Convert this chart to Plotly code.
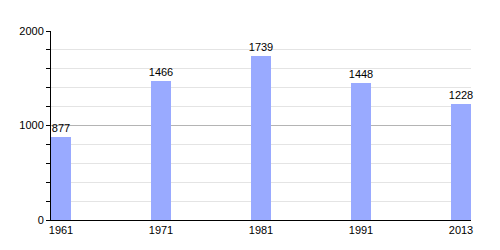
import plotly.graph_objects as go

years = ["1961", "1971", "1981", "1991", "2013"]
population = [877, 1466, 1739, 1448, 1228]
y_ticks = [0, 1000, 2000]

fig = go.Figure()
fig.add_trace(go.Bar(
    x=years, y=population,
    marker=dict(color="#99AAFF", line=dict(width=0)),
    width=0.2,
    text=[str(v) for v in population],
    textposition="outside",
    constraintext="none",
    cliponaxis=False,
    textfont=dict(family="Liberation Sans, Arial", size=11, color="#000000"),
))

fig.update_layout(
    width=500, height=250,
    margin=dict(l=51, r=29, t=31, b=30),
    paper_bgcolor="white", plot_bgcolor="white",
    showlegend=False,
    font=dict(family="Liberation Sans, Arial", size=11, color="#000000"),
    bargap=0,
)
fig.update_xaxes(
    type="category",
    range=[-0.1, 4.1],
    showline=True, linecolor="#000000", linewidth=1,
    showgrid=False,
    ticks="", tickfont=dict(size=11),
    ticklabelstandoff=0,
)
fig.update_yaxes(
    range=[0, 2000],
    tickvals=y_ticks,
    showline=True, linecolor="#000000", linewidth=1,
    showgrid=True, gridcolor="#B4B4B4", gridwidth=1,
    ticks="outside", ticklen=4, tickcolor="#000000",
    minor=dict(dtick=200, showgrid=True, gridcolor="#E4E4E4", ticks="outside", ticklen=4, tickcolor="#000000"),
    zeroline=False,
    tickfont=dict(size=11),
)

fig.write_html("out.html")
